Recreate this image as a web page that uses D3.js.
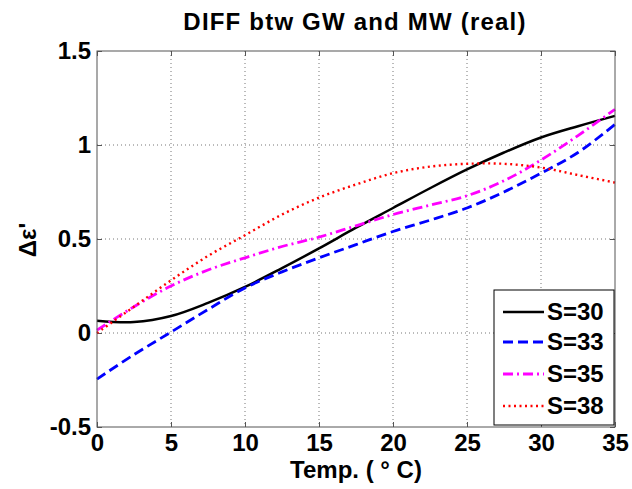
<!DOCTYPE html>
<html>
<head>
<meta charset="utf-8">
<script src="https://cdn.jsdelivr.net/npm/d3@7"></script>
<style>
  body { margin: 0; background: #fff; }
  svg text { font-family: "Liberation Sans", Arial, Helvetica, sans-serif; font-weight: bold; }
</style>
</head>
<body>
<svg id="chart" width="632" height="489"></svg>
<script>
// ---- data ----
const temps = [0, 2.5, 5, 7.5, 10, 12.5, 15, 17.5, 20, 22.5, 25, 27.5, 30, 32.5, 35];
const s30 = [0.065, 0.058, 0.09, 0.16, 0.245, 0.345, 0.45, 0.56, 0.665, 0.77, 0.87, 0.96, 1.04, 1.10, 1.155];
const s33 = [-0.245, -0.115, 0.005, 0.125, 0.24, 0.325, 0.40, 0.47, 0.54, 0.60, 0.665, 0.75, 0.85, 0.96, 1.11];
const s35 = [0.015, 0.14, 0.25, 0.335, 0.40, 0.46, 0.51, 0.57, 0.63, 0.68, 0.73, 0.81, 0.92, 1.05, 1.19];
const s38 = [0.0, 0.14, 0.28, 0.41, 0.52, 0.63, 0.72, 0.79, 0.85, 0.885, 0.90, 0.90, 0.88, 0.84, 0.80];
const seriesNames = ["S=30", "S=33", "S=35", "S=38"];
const xTicks = [0, 5, 10, 15, 20, 25, 30, 35];
const yTicks = [-0.5, 0, 0.5, 1, 1.5];
const yTickLabels = ["-0.5", "0", "0.5", "1", "1.5"];

const styles = [
  { color: "#000000", dash: null, width: 2.5 },
  { color: "#0000ff", dash: "10,5", width: 2.8 },
  { color: "#ff00ff", dash: "10,4,2,4", width: 2.8 },
  { color: "#ff0000", dash: "2,3.5", width: 2.4 }
];

const svg = d3.select("#chart");
const L = 97, R = 615, T = 51, B = 427;
const x = d3.scaleLinear().domain([0, 35]).range([L, R]);
const y = d3.scaleLinear().domain([-0.5, 1.5]).range([B, T]);

// grid
const grid = svg.append("g");
xTicks.slice(1, -1).forEach(t => {
  grid.append("line").attr("x1", x(t)).attr("x2", x(t)).attr("y1", T).attr("y2", B)
    .attr("stroke", "#777").attr("stroke-width", 1).attr("stroke-dasharray", "1,3");
});
yTicks.slice(1, -1).forEach(t => {
  grid.append("line").attr("x1", L).attr("x2", R).attr("y1", y(t)).attr("y2", y(t))
    .attr("stroke", "#777").attr("stroke-width", 1).attr("stroke-dasharray", "1,3");
});

// axes with inward ticks
const axB = d3.axisBottom(x).tickValues(xTicks).tickSize(-5).tickFormat(d3.format("d")).tickPadding(7);
const axT = d3.axisTop(x).tickValues(xTicks).tickSize(-5).tickFormat("");
const axL = d3.axisLeft(y).tickValues(yTicks).tickSize(-5).tickFormat((d, i) => yTickLabels[i]).tickPadding(6);
const axR = d3.axisRight(y).tickValues(yTicks).tickSize(-5).tickFormat("");

function styleAxis(g) {
  g.select(".domain").remove();
  g.selectAll(".tick line").attr("stroke", "#555");
  g.selectAll(".tick text").attr("fill", "#000").style("font-size", "24px")
    .style("font-family", '"Liberation Sans", Arial, sans-serif').style("font-weight", "bold");
}
svg.append("g").attr("transform", `translate(0,${B})`).call(axB).call(styleAxis);
svg.append("g").attr("transform", `translate(0,${T})`).call(axT).call(styleAxis);
svg.append("g").attr("transform", `translate(${L},0)`).call(axL).call(styleAxis);
svg.append("g").attr("transform", `translate(${R},0)`).call(axR).call(styleAxis);

// lines
const allSeries = [s30, s33, s35, s38];
const line = d3.line().x(d => x(d[0])).y(d => y(d[1])).curve(d3.curveCatmullRom);
allSeries.forEach((vals, i) => {
  const pts = temps.map((t, j) => [t, vals[j]]);
  svg.append("path").datum(pts).attr("d", line)
    .attr("fill", "none").attr("stroke", styles[i].color)
    .attr("stroke-width", styles[i].width)
    .attr("stroke-dasharray", styles[i].dash);
});

// box
svg.append("rect").attr("x", L).attr("y", T).attr("width", R - L).attr("height", B - T)
  .attr("fill", "none").attr("stroke", "#555").attr("stroke-width", 1);

// legend
const lg = svg.append("g");
lg.append("rect").attr("x", 494).attr("y", 290).attr("width", 120).attr("height", 135)
  .attr("fill", "#fff").attr("stroke", "#000").attr("stroke-width", 1);
const legY = [312, 342, 374, 406];
seriesNames.forEach((name, i) => {
  lg.append("line").attr("x1", 503).attr("x2", 544).attr("y1", legY[i]).attr("y2", legY[i])
    .attr("stroke", styles[i].color).attr("stroke-width", styles[i].width)
    .attr("stroke-dasharray", styles[i].dash);
  lg.append("text").attr("x", 547).attr("y", legY[i]).attr("dy", "0.35em")
    .style("font-size", "24px").text(name);
});

// title
svg.append("text").attr("x", 355).attr("y", 30).attr("text-anchor", "middle")
  .style("font-size", "24px").style("letter-spacing", "1.2px").text("DIFF btw GW and MW (real)");

// x label
svg.append("text").attr("x", 356).attr("y", 478).attr("text-anchor", "middle")
  .style("font-size", "24px").text("Temp. ( ° C)");

// y label
svg.append("text").attr("transform", "translate(36,240) rotate(-90)").attr("text-anchor", "middle")
  .style("font-size", "24px").text("Δε'");
</script>
</body>
</html>
